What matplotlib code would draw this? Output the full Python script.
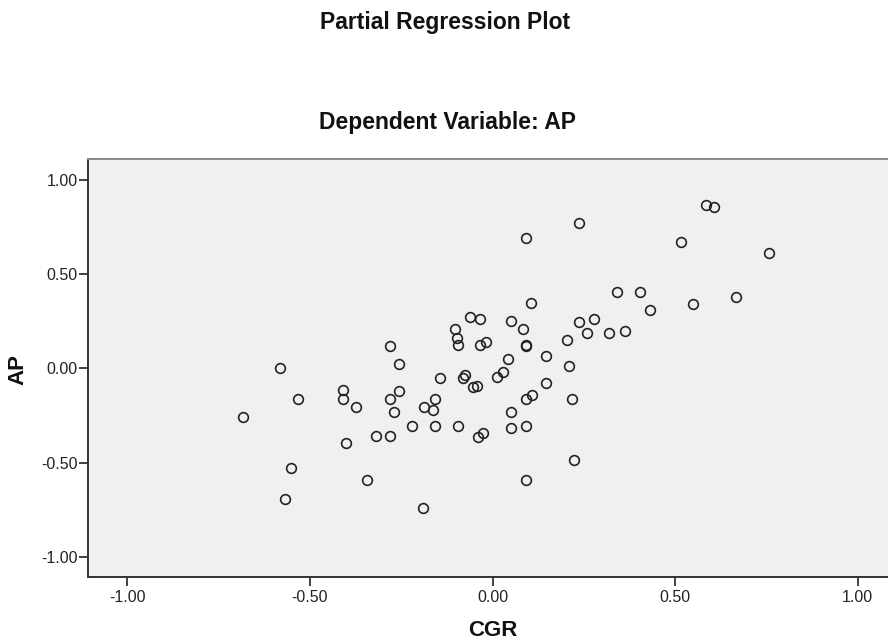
import numpy as np
import matplotlib
matplotlib.use("Agg")
import matplotlib.pyplot as plt

# partial regression residuals
cgr = [-0.684, -0.581, -0.568, -0.553, -0.533, -0.409, -0.409, -0.400, -0.373, -0.345,
       -0.319, -0.282, -0.282, -0.282, -0.255, -0.255, -0.270, -0.220, -0.191, -0.188,
       -0.164, -0.157, -0.158, -0.144, -0.103, -0.096, -0.095, -0.095, -0.082, -0.075,
       -0.063, -0.054, -0.043, -0.041, -0.033, -0.034, -0.026, -0.018, 0.012, 0.030,
       0.042, 0.050, 0.050, 0.050, 0.084, 0.092, 0.092, 0.092, 0.092, 0.092,
       0.092, 0.105, 0.107, 0.147, 0.147, 0.203, 0.210, 0.217, 0.223, 0.237,
       0.236, 0.258, 0.279, 0.320, 0.363, 0.342, 0.404, 0.432, 0.516, 0.550,
       0.585, 0.607, 0.668, 0.758]
ap = [-0.260, 0.000, -0.695, -0.527, -0.164, -0.115, -0.164, -0.394, -0.207, -0.593,
      -0.358, 0.120, -0.164, -0.358, 0.022, -0.120, -0.234, -0.306, -0.743, -0.207,
      -0.221, -0.163, -0.306, -0.053, 0.208, 0.159, 0.122, -0.306, -0.053, -0.037,
      0.274, -0.099, -0.094, -0.363, 0.262, 0.121, -0.341, 0.142, -0.045, -0.018,
      0.049, 0.249, -0.230, -0.319, 0.207, 0.124, 0.120, 0.690, -0.164, -0.306,
      -0.593, 0.344, -0.142, 0.065, -0.078, 0.150, 0.014, -0.164, -0.486, 0.769,
      0.248, 0.186, 0.262, 0.186, 0.199, 0.406, 0.406, 0.307, 0.668, 0.341,
      0.868, 0.854, 0.377, 0.613]

ticks = [-1.0, -0.5, 0.0, 0.5, 1.0]
tick_labels = ["-1.00", "-0.50", "0.00", "0.50", "1.00"]

plt.rcParams['font.family'] = ['Liberation Sans', 'DejaVu Sans']

fig = plt.figure(figsize=(8.88, 6.44), dpi=100)
ax = fig.add_axes([88/888, 67/644, 809/888, 418/644])
ax.set_facecolor("#f0f0f0")

ax.plot(cgr, ap, 'o', ms=7, mfc='none', mec='#222222', mew=1.2)

ax.set_xlim(-1.108, 1.108)
ax.set_ylim(-1.107, 1.110)
ax.set_xticks(ticks)
ax.set_xticklabels(tick_labels)
ax.set_yticks(ticks)
ax.set_yticklabels(tick_labels)
ax.tick_params(direction='out', length=6.5, width=1.3, pad=1, labelsize=11.5,
               colors='#333333', labelcolor='#222222')
ax.tick_params(axis='x', pad=3)

for s in ['left', 'bottom']:
    ax.spines[s].set_color('#333333')
    ax.spines[s].set_linewidth(1.4)
ax.spines['top'].set_color('#888888')
ax.spines['top'].set_linewidth(1.4)
ax.spines['right'].set_color('#888888')

fig.text(445/888, 1 - 22/644, "Partial Regression Plot", ha='center', va='center',
         fontsize=16.5, fontweight='bold', color='#111111')
fig.text(447/888, 1 - 123/644, "Dependent Variable: AP", ha='center', va='center',
         fontsize=16.5, fontweight='bold', color='#111111')
fig.text(493/888, 1 - 630/644, "CGR", ha='center', va='center',
         fontsize=16, fontweight='bold', color='#111111')
fig.text(18/888, 1 - 369/644, "AP", ha='center', va='center', rotation=90,
         fontsize=16, fontweight='bold', color='#111111')

fig.savefig("out.png", dpi=100)
